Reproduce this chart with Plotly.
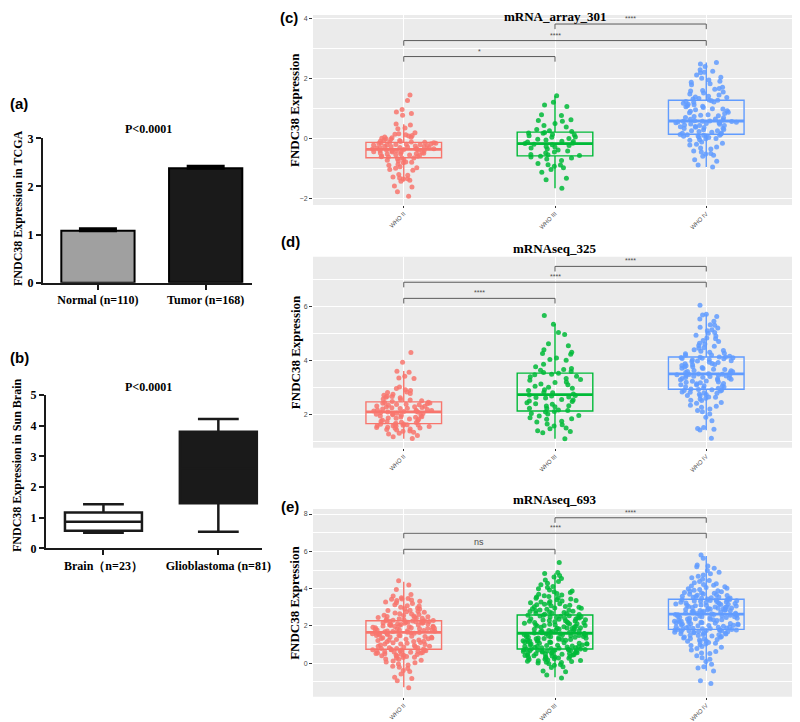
import plotly.graph_objects as go

# page is 800x722; the browser's default 8px body margin offsets the figure
PAGE_W, PAGE_H = 800, 722
OFF = 8
W, H = PAGE_W - OFF, PAGE_H - OFF
SERIF = "Liberation Serif"
SANS = "Liberation Sans"

# ---------------- Panel (a): bar chart (mean + SEM) ----------------
a_categories = ["Normal (n=110)", "Tumor (n=168)"]
a_means = [1.08, 2.38]
a_sem = [0.04, 0.04]
a_colors = ["#A0A0A0", "#1A1A1A"]

# ---------------- Panel (b): min-max box plot ----------------
b_categories = ["Brain（n=23）", "Glioblastoma (n=81)"]
b_min = [0.51, 0.54]
b_q1 = [0.57, 1.47]
b_median = [0.87, 2.60]
b_q3 = [1.17, 3.80]
b_max = [1.44, 4.22]
b_fill = ["#FFFFFF", "#1A1A1A"]

# ---------------- Panels (c)-(e): ggplot box + jitter ----------------
grades = ["WHO II", "WHO III", "WHO IV"]
grade_colors = ["#F8766D", "#00BA38", "#619CFF"]

# (c) mRNA_array_301
c_lower = [-1.42, -1.64, -0.94]
c_q1 = [-0.63, -0.57, 0.15]
c_median = [-0.35, -0.16, 0.59]
c_q3 = [-0.12, 0.22, 1.28]
c_upper = [0.48, 1.43, 2.53]
c_who2 = [-1.91, -1.76, -1.60, -1.57, -1.41, -1.38, -1.34, -1.33, -1.30, -1.27, -1.21, -1.19, -1.05, -1.02,
          -0.98, -0.96, -0.93, -0.88, -0.85, -0.80, -0.78, -0.77, -0.74, -0.71, -0.69, -0.66, -0.64, -0.63,
          -0.61, -0.60, -0.58, -0.57, -0.55, -0.54, -0.53, -0.51, -0.50, -0.50, -0.48, -0.47, -0.46, -0.45,
          -0.44, -0.43, -0.41, -0.40, -0.40, -0.39, -0.38, -0.37, -0.36, -0.35, -0.34, -0.33, -0.32, -0.31,
          -0.30, -0.30, -0.29, -0.27, -0.26, -0.26, -0.25, -0.24, -0.22, -0.21, -0.21, -0.20, -0.19, -0.18,
          -0.17, -0.16, -0.15, -0.14, -0.13, -0.12, -0.12, -0.11, -0.09, -0.08, -0.06, -0.04, -0.02, 0.00,
          0.03, 0.05, 0.06, 0.09, 0.11, 0.13, 0.15, 0.17, 0.20, 0.33, 0.36, 0.46, 0.49, 0.78, 0.84, 0.89,
          0.97, 1.27, 1.45, 0.02]
c_who3 = [-1.64, -1.36, -1.31, -1.11, -1.02, -0.96, -0.91, -0.87, -0.86, -0.82, -0.72, -0.67, -0.64, -0.61,
          -0.58, -0.56, -0.53, -0.52, -0.47, -0.44, -0.41, -0.37, -0.34, -0.31, -0.27, -0.26, -0.22, -0.20,
          -0.18, -0.16, -0.15, -0.11, -0.09, -0.08, -0.04, -0.02, 0.01, 0.05, 0.06, 0.10, 0.13, 0.14, 0.18,
          0.19, 0.21, 0.24, 0.27, 0.31, 0.39, 0.44, 0.51, 0.58, 0.61, 0.63, 0.77, 0.80, 1.07, 1.12, 1.21, 1.43]
c_who4 = [-0.94, -0.87, -0.75, -0.70, -0.58, -0.55, -0.51, -0.49, -0.44, -0.41, -0.34, -0.31, -0.27, -0.21,
          -0.18, -0.15, -0.11, -0.05, -0.03, 0.00, 0.01, 0.04, 0.05, 0.08, 0.09, 0.10, 0.12, 0.12, 0.13, 0.14,
          0.16, 0.18, 0.19, 0.22, 0.24, 0.27, 0.27, 0.30, 0.31, 0.34, 0.35, 0.37, 0.38, 0.40, 0.41, 0.44,
          0.44, 0.46, 0.48, 0.49, 0.51, 0.52, 0.53, 0.55, 0.55, 0.56, 0.57, 0.58, 0.58, 0.59, 0.60, 0.62,
          0.65, 0.66, 0.70, 0.71, 0.74, 0.76, 0.78, 0.80, 0.84, 0.86, 0.88, 0.91, 0.93, 0.96, 0.99, 1.00,
          1.04, 1.06, 1.08, 1.10, 1.13, 1.15, 1.18, 1.21, 1.22, 1.24, 1.26, 1.28, 1.29, 1.32, 1.34, 1.37,
          1.39, 1.41, 1.45, 1.49, 1.52, 1.55, 1.59, 1.60, 1.64, 1.67, 1.71, 1.79, 1.83, 1.88, 1.91, 1.95,
          2.01, 2.04, 2.12, 2.19, 2.21, 2.24, 2.29, 2.40, 2.48, 2.53]
c_brackets = [("WHO II", "WHO III", 2.73, "*"), ("WHO II", "WHO IV", 3.26, "****"),
              ("WHO III", "WHO IV", 3.81, "****")]

# (d) mRNAseq_325
d_lower = [1.09, 1.09, 1.40]
d_q1 = [1.65, 2.12, 2.93]
d_median = [2.09, 2.73, 3.50]
d_q3 = [2.46, 3.53, 4.13]
d_upper = [3.61, 5.36, 5.72]
d_who2 = [1.10, 1.16, 1.21, 1.26, 1.29, 1.33, 1.37, 1.38, 1.41, 1.43, 1.45, 1.48, 1.49, 1.51, 1.52, 1.54,
          1.55, 1.57, 1.57, 1.59, 1.60, 1.61, 1.62, 1.63, 1.64, 1.66, 1.69, 1.70, 1.73, 1.74, 1.77, 1.78,
          1.81, 1.82, 1.85, 1.86, 1.89, 1.90, 1.91, 1.93, 1.95, 1.96, 1.98, 2.00, 2.01, 2.03, 2.04, 2.06,
          2.07, 2.08, 2.10, 2.11, 2.12, 2.14, 2.15, 2.16, 2.18, 2.19, 2.21, 2.22, 2.24, 2.25, 2.27, 2.28,
          2.30, 2.31, 2.33, 2.35, 2.36, 2.37, 2.39, 2.41, 2.42, 2.44, 2.45, 2.47, 2.50, 2.53, 2.55, 2.57,
          2.61, 2.63, 2.66, 2.67, 2.71, 2.74, 2.77, 2.81, 2.83, 2.88, 2.91, 2.96, 3.01, 3.33, 3.35, 3.41,
          3.56, 3.60, 3.93, 4.30]
d_who3 = [1.09, 1.31, 1.36, 1.39, 1.46, 1.49, 1.56, 1.61, 1.64, 1.71, 1.74, 1.81, 1.83, 1.87, 1.93, 1.95,
          2.01, 2.03, 2.08, 2.10, 2.14, 2.16, 2.21, 2.22, 2.28, 2.31, 2.32, 2.37, 2.39, 2.43, 2.47, 2.49,
          2.53, 2.55, 2.60, 2.62, 2.64, 2.68, 2.70, 2.72, 2.75, 2.80, 2.82, 2.88, 2.91, 2.97, 3.00, 3.04,
          3.10, 3.12, 3.18, 3.20, 3.26, 3.29, 3.33, 3.39, 3.41, 3.47, 3.49, 3.52, 3.55, 3.59, 3.64, 3.66,
          3.70, 3.77, 3.86, 4.01, 4.04, 4.09, 4.23, 4.26, 4.31, 4.40, 4.55, 4.62, 4.97, 5.04, 5.35, 5.67]
d_who4 = [1.11, 1.41, 1.44, 1.47, 1.51, 1.76, 1.89, 2.01, 2.09, 2.14, 2.19, 2.26, 2.30, 2.33, 2.41, 2.44,
          2.51, 2.52, 2.57, 2.59, 2.63, 2.64, 2.69, 2.70, 2.73, 2.74, 2.78, 2.79, 2.82, 2.83, 2.86, 2.88,
          2.89, 2.91, 2.92, 2.94, 2.97, 2.98, 3.01, 3.02, 3.05, 3.06, 3.09, 3.10, 3.13, 3.14, 3.17, 3.19,
          3.20, 3.23, 3.24, 3.27, 3.28, 3.30, 3.32, 3.33, 3.35, 3.37, 3.38, 3.40, 3.41, 3.42, 3.44, 3.45,
          3.46, 3.47, 3.48, 3.49, 3.50, 3.51, 3.54, 3.55, 3.58, 3.59, 3.62, 3.63, 3.66, 3.67, 3.70, 3.71,
          3.74, 3.76, 3.77, 3.80, 3.81, 3.84, 3.85, 3.88, 3.89, 3.92, 3.93, 3.96, 3.98, 3.99, 4.02, 4.03,
          4.06, 4.07, 4.08, 4.10, 4.11, 4.12, 4.13, 4.13, 4.16, 4.19, 4.20, 4.25, 4.27, 4.31, 4.34, 4.37,
          4.40, 4.45, 4.47, 4.53, 4.56, 4.61, 4.64, 4.71, 4.74, 4.81, 4.84, 4.91, 4.94, 5.01, 5.04, 5.11,
          5.14, 5.21, 5.24, 5.31, 5.33, 5.46, 5.54, 5.64, 5.69, 5.72, 6.05]
d_brackets = [("WHO II", "WHO III", 6.31, "****"), ("WHO II", "WHO IV", 6.91, "****"),
              ("WHO III", "WHO IV", 7.50, "****")]

# (e) mRNAseq_693
e_lower = [-1.29, -0.75, -0.40]
e_q1 = [0.75, 0.77, 1.82]
e_median = [1.66, 1.61, 2.64]
e_q3 = [2.28, 2.59, 3.43]
e_upper = [4.37, 4.82, 5.75]
e_who2 = [-1.31, -0.93, -0.81, -0.75, -0.57, -0.44, -0.39, -0.28, -0.21, -0.16, -0.09, -0.04, 0.03, 0.07,
          0.13, 0.17, 0.22, 0.23, 0.28, 0.31, 0.32, 0.36, 0.39, 0.40, 0.43, 0.45, 0.47, 0.49, 0.51, 0.53,
          0.55, 0.55, 0.58, 0.59, 0.61, 0.62, 0.64, 0.65, 0.67, 0.68, 0.69, 0.71, 0.72, 0.73, 0.74, 0.76,
          0.79, 0.80, 0.83, 0.84, 0.87, 0.89, 0.91, 0.92, 0.96, 0.98, 1.01, 1.03, 1.04, 1.08, 1.10, 1.11,
          1.15, 1.17, 1.18, 1.22, 1.24, 1.25, 1.27, 1.29, 1.31, 1.33, 1.35, 1.37, 1.39, 1.41, 1.43, 1.45,
          1.47, 1.49, 1.51, 1.53, 1.55, 1.57, 1.58, 1.60, 1.61, 1.63, 1.64, 1.65, 1.67, 1.69, 1.70, 1.72,
          1.73, 1.75, 1.76, 1.78, 1.79, 1.81, 1.82, 1.84, 1.85, 1.87, 1.88, 1.90, 1.91, 1.93, 1.94, 1.96,
          1.97, 1.99, 2.00, 2.02, 2.03, 2.05, 2.06, 2.08, 2.09, 2.11, 2.12, 2.14, 2.15, 2.17, 2.18, 2.20,
          2.21, 2.22, 2.23, 2.24, 2.25, 2.26, 2.27, 2.28, 2.28, 2.30, 2.31, 2.34, 2.35, 2.39, 2.41, 2.42,
          2.45, 2.47, 2.49, 2.51, 2.53, 2.56, 2.57, 2.61, 2.64, 2.65, 2.70, 2.73, 2.76, 2.79, 2.83, 2.85,
          2.91, 2.93, 2.97, 3.01, 3.07, 3.09, 3.14, 3.21, 3.24, 3.29, 3.32, 3.37, 3.39, 3.43, 3.44, 3.47,
          3.52, 3.61, 3.69, 3.96, 4.19, 4.42]
e_who3 = [-0.79, -0.63, -0.45, -0.41, -0.22, -0.18, -0.10, -0.07, -0.02, 0.01, 0.04, 0.06, 0.09, 0.11,
          0.14, 0.15, 0.18, 0.21, 0.22, 0.24, 0.27, 0.29, 0.30, 0.32, 0.34, 0.35, 0.37, 0.39, 0.41, 0.42,
          0.44, 0.45, 0.47, 0.48, 0.50, 0.51, 0.53, 0.54, 0.56, 0.57, 0.59, 0.60, 0.61, 0.63, 0.64, 0.65,
          0.66, 0.68, 0.69, 0.70, 0.71, 0.72, 0.73, 0.74, 0.75, 0.76, 0.76, 0.78, 0.80, 0.81, 0.83, 0.84,
          0.86, 0.87, 0.89, 0.91, 0.92, 0.93, 0.96, 0.97, 0.98, 1.00, 1.03, 1.04, 1.05, 1.07, 1.08, 1.10,
          1.12, 1.13, 1.14, 1.16, 1.18, 1.19, 1.21, 1.22, 1.24, 1.25, 1.27, 1.28, 1.29, 1.31, 1.33, 1.34,
          1.35, 1.37, 1.39, 1.40, 1.42, 1.43, 1.44, 1.46, 1.48, 1.49, 1.51, 1.52, 1.53, 1.55, 1.57, 1.58,
          1.59, 1.60, 1.62, 1.64, 1.65, 1.67, 1.69, 1.70, 1.72, 1.74, 1.76, 1.77, 1.79, 1.81, 1.82, 1.84,
          1.86, 1.88, 1.89, 1.91, 1.93, 1.95, 1.96, 1.98, 2.00, 2.02, 2.03, 2.05, 2.07, 2.09, 2.11, 2.12,
          2.14, 2.16, 2.18, 2.19, 2.21, 2.23, 2.25, 2.27, 2.28, 2.30, 2.32, 2.34, 2.36, 2.37, 2.39, 2.41,
          2.43, 2.45, 2.46, 2.48, 2.50, 2.52, 2.54, 2.55, 2.57, 2.58, 2.61, 2.63, 2.65, 2.68, 2.70, 2.72,
          2.75, 2.77, 2.79, 2.82, 2.85, 2.86, 2.90, 2.92, 2.95, 2.97, 3.00, 3.03, 3.05, 3.08, 3.11, 3.14,
          3.16, 3.19, 3.22, 3.25, 3.28, 3.31, 3.34, 3.37, 3.40, 3.44, 3.48, 3.51, 3.55, 3.58, 3.62, 3.66,
          3.70, 3.74, 3.79, 3.83, 3.88, 3.93, 3.99, 4.06, 4.12, 4.21, 4.29, 4.38, 4.47, 4.55, 4.62, 4.70,
          4.81, 4.86, 5.40]
e_who4 = [-1.08, -0.94, -0.41, -0.25, -0.18, -0.05, 0.10, 0.22, 0.30, 0.41, 0.52, 0.55, 0.63, 0.71,
          0.80, 0.86, 0.90, 0.95, 1.00, 1.04, 1.08, 1.11, 1.15, 1.18, 1.21, 1.25, 1.28, 1.30, 1.33, 1.36,
          1.39, 1.41, 1.44, 1.46, 1.49, 1.51, 1.53, 1.55, 1.57, 1.59, 1.61, 1.62, 1.64, 1.66, 1.67, 1.69,
          1.70, 1.72, 1.73, 1.74, 1.76, 1.77, 1.78, 1.79, 1.80, 1.81, 1.81, 1.83, 1.85, 1.86, 1.88, 1.89,
          1.91, 1.93, 1.94, 1.96, 1.97, 1.99, 2.01, 2.02, 2.04, 2.05, 2.07, 2.09, 2.10, 2.12, 2.13, 2.15,
          2.17, 2.18, 2.20, 2.21, 2.23, 2.25, 2.26, 2.28, 2.29, 2.31, 2.33, 2.34, 2.36, 2.37, 2.39, 2.41,
          2.42, 2.44, 2.45, 2.47, 2.49, 2.50, 2.52, 2.53, 2.55, 2.57, 2.58, 2.60, 2.61, 2.62, 2.63, 2.65,
          2.67, 2.68, 2.70, 2.71, 2.73, 2.75, 2.76, 2.78, 2.79, 2.81, 2.83, 2.84, 2.86, 2.87, 2.89, 2.91,
          2.92, 2.94, 2.95, 2.97, 2.99, 3.00, 3.02, 3.03, 3.05, 3.07, 3.08, 3.10, 3.11, 3.13, 3.15, 3.16,
          3.18, 3.19, 3.21, 3.23, 3.24, 3.26, 3.27, 3.29, 3.31, 3.32, 3.34, 3.35, 3.37, 3.39, 3.40, 3.41,
          3.42, 3.44, 3.46, 3.48, 3.50, 3.52, 3.54, 3.56, 3.58, 3.60, 3.63, 3.65, 3.67, 3.70, 3.72, 3.75,
          3.77, 3.80, 3.83, 3.86, 3.89, 3.92, 3.95, 3.99, 4.02, 4.06, 4.10, 4.14, 4.18, 4.22, 4.27, 4.32,
          4.38, 4.44, 4.51, 4.58, 4.66, 4.73, 4.80, 4.88, 4.98, 5.10, 5.18, 5.22, 5.27, 5.63, 5.80]
e_brackets = [("WHO II", "WHO III", 6.11, "ns"), ("WHO II", "WHO IV", 6.97, "****"),
              ("WHO III", "WHO IV", 7.80, "****")]


def px_x(p):
    return max(0.0, (p - OFF) / W)


def px_y(p):
    return 1 - (p - OFF) / H


def paper_text(x, y, text, family, size, xanchor="center", angle=0, color="black"):
    # texts whose box would cross the figure's top edge are pinned to it instead
    if y - OFF < 0.75 * size:
        return dict(x=px_x(x), y=1, xref="paper", yref="paper", xanchor=xanchor,
                    yanchor="top", yshift=0, borderpad=0, text=text, showarrow=False,
                    textangle=angle, font=dict(family=family, size=size, color=color))
    return dict(x=px_x(x), y=px_y(y), xref="paper", yref="paper", xanchor=xanchor,
                yanchor="middle", text=text, showarrow=False, textangle=angle,
                font=dict(family=family, size=size, color=color))


fig = go.Figure()
annotations = []
shapes = []

# ---------- Panel (a) ----------
fig.add_trace(go.Bar(
    x=a_categories, y=a_means, width=0.68,
    marker=dict(color=a_colors, line=dict(color="black", width=2)),
    error_y=dict(type="data", symmetric=False, array=a_sem, arrayminus=[0] * len(a_sem),
                 color="black", thickness=3, width=19),
    xaxis="x", yaxis="y", showlegend=False, hoverinfo="skip"))

# ---------- Panel (b) ----------
for i, cat in enumerate(b_categories):
    fig.add_trace(go.Box(
        x=[cat], q1=[b_q1[i]], median=[b_median[i]], q3=[b_q3[i]],
        lowerfence=[b_min[i]], upperfence=[b_max[i]], width=0.67, whiskerwidth=0.53,
        fillcolor=b_fill[i], line=dict(color="#1A1A1A", width=2.5), boxpoints=False,
        xaxis="x2", yaxis="y2", showlegend=False, hoverinfo="skip"))

# ---------- Panels (c)-(e) ----------
panels = [
    dict(ax="3", title="mRNA_array_301", label="(c)", lower=c_lower, q1=c_q1, med=c_median, q3=c_q3,
         upper=c_upper, pts=[c_who2, c_who3, c_who4], br=c_brackets, rng=[-2.2, 4.11], tip=0.17,
         top=15, bottom=205, title_y=7, label_y=11),
    dict(ax="4", title="mRNAseq_325", label="(d)", lower=d_lower, q1=d_q1, med=d_median, q3=d_q3,
         upper=d_upper, pts=[d_who2, d_who3, d_who4], br=d_brackets, rng=[0.755, 7.86], tip=0.19,
         top=256.7, bottom=447.7, title_y=248, label_y=242),
    dict(ax="5", title="mRNAseq_693", label="(e)", lower=e_lower, q1=e_q1, med=e_median, q3=e_q3,
         upper=e_upper, pts=[e_who2, e_who3, e_who4], br=e_brackets, rng=[-1.79, 8.27], tip=0.27,
         top=509, bottom=696.7, title_y=499, label_y=506),
]

for p in panels:
    xa, ya = "x" + p["ax"], "y" + p["ax"]
    for i, g in enumerate(grades):
        col = grade_colors[i]
        fig.add_trace(go.Box(
            x=[g], q1=[p["q1"][i]], median=[p["med"][i]], q3=[p["q3"][i]],
            lowerfence=[p["lower"][i]], upperfence=[p["upper"][i]], width=0.5, whiskerwidth=0,
            fillcolor="rgba(0,0,0,0)", line=dict(color=col, width=1.4), boxpoints=False,
            xaxis=xa, yaxis=ya, showlegend=False, hoverinfo="skip"))
        fig.add_trace(go.Box(
            x=[g], q1=[p["med"][i]], median=[p["med"][i]], q3=[p["med"][i]],
            lowerfence=[p["med"][i]], upperfence=[p["med"][i]], width=0.5, whiskerwidth=0,
            fillcolor="rgba(0,0,0,0)", line=dict(color=col, width=2.8), boxpoints=False,
            xaxis=xa, yaxis=ya, showlegend=False, hoverinfo="skip"))
        vals = p["pts"][i]
        fig.add_trace(go.Box(
            x=[g] * len(vals), y=vals, width=0.5, boxpoints="all", jitter=0.85, pointpos=0,
            fillcolor="rgba(0,0,0,0)", line=dict(color="rgba(0,0,0,0)", width=0),
            marker=dict(color=col, size=5, opacity=0.85),
            xaxis=xa, yaxis=ya, showlegend=False, hoverinfo="skip"))
    for (g1, g2, h, lab) in p["br"]:
        fig.add_trace(go.Scatter(
            x=[g1, g1, g2, g2], y=[h - p["tip"], h, h, h - p["tip"]], mode="lines",
            line=dict(color="#5A5A5A", width=1), xaxis=xa, yaxis=ya,
            showlegend=False, hoverinfo="skip"))
        annotations.append(dict(
            x=(grades.index(g1) + grades.index(g2)) / 2, y=h, xref=xa, yref=ya,
            text=lab, showarrow=False, xanchor="center", yanchor="bottom", yshift=0,
            font=dict(family=SANS, size=9 if lab == "ns" else 7, color="#4D4D4D")))
    shapes.append(dict(type="rect", xref=xa + " domain", yref=ya + " domain",
                       x0=0, x1=1, y0=0, y1=1, fillcolor="#EBEBEB", line=dict(width=0),
                       layer="below"))
    annotations.append(paper_text(0.5 * (313 + 797), p["title_y"], "<b>" + p["title"] + "</b>",
                                  SERIF, 13))
    annotations.append(paper_text(279, p["label_y"], "<b>" + p["label"] + "</b>", SANS, 15,
                                  xanchor="left"))
    annotations.append(paper_text(295, 0.5 * (p["top"] + p["bottom"]), "<b>FNDC38 Expression</b>",
                                  SERIF, 13, angle=-90))

# ---------- text for (a), (b) ----------
annotations += [
    paper_text(8, 104, "<b>(a)</b>", SANS, 15, xanchor="left"),
    paper_text(8, 357, "<b>(b)</b>", SANS, 15, xanchor="left"),
    paper_text(148, 129, "<b>P<0.0001</b>", SERIF, 12),
    paper_text(148, 387, "<b>P<0.0001</b>", SERIF, 12),
    paper_text(18, 208, "<b>FNDC38 Expression in TCGA</b>", SERIF, 12, angle=-90),
    paper_text(17, 466, "<b>FNDC38 Expression in Sun Brain</b>", SERIF, 12, angle=-90),
]

prism_axis = dict(showline=True, linecolor="#1A1A1A", linewidth=2, ticks="outside", ticklen=5,
                  tickwidth=2, tickcolor="#1A1A1A", showgrid=False, zeroline=False,
                  automargin=False,
                  tickfont=dict(family=SERIF, size=12, color="black", weight="bold"))

layout = dict(
    width=W, height=H, margin=dict(l=0, r=0, t=0, b=0, autoexpand=False),
    paper_bgcolor="white", plot_bgcolor="rgba(0,0,0,0)",
    boxmode="overlay",
    annotations=annotations, shapes=shapes,
    xaxis=dict(domain=[px_x(43), px_x(252)], range=[-0.51, 1.43], type="category",
               anchor="y", **prism_axis),
    yaxis=dict(domain=[px_y(282.7), px_y(138.3)], range=[0, 3], dtick=1, anchor="x", **prism_axis),
    xaxis2=dict(domain=[px_x(46), px_x(262)], range=[-0.5, 1.38], type="category",
                anchor="y2", **prism_axis),
    yaxis2=dict(domain=[px_y(548.3), px_y(395)], range=[0, 5], dtick=1, anchor="x2", **prism_axis),
)

gg_x = dict(type="category", range=[-0.6, 2.6], showgrid=True, gridcolor="white", gridwidth=1.1,
            ticks="outside", ticklen=2, tickcolor="#333333", tickwidth=1, tickangle=-45,
            showline=False, zeroline=False, automargin=False,
            tickfont=dict(family=SANS, size=6, color="#4D4D4D"))
gg_y = dict(showgrid=True, gridcolor="white", gridwidth=1.1, ticks="outside", ticklen=3,
            tickcolor="#333333", tickwidth=1, showline=False, zeroline=False, dtick=2,
            automargin=False,
            minor=dict(showgrid=True, gridcolor="white", gridwidth=0.5, dtick=1),
            tickfont=dict(family=SANS, size=7, color="#4D4D4D"))

for p in panels:
    n = p["ax"]
    layout["xaxis" + n] = dict(domain=[px_x(313), min(1.0, px_x(797))], anchor="y" + n, **gg_x)
    layout["yaxis" + n] = dict(domain=[px_y(p["bottom"]), px_y(p["top"])], range=p["rng"],
                               anchor="x" + n, **gg_y)

fig.update_layout(**layout)
fig.write_html("out.html")
